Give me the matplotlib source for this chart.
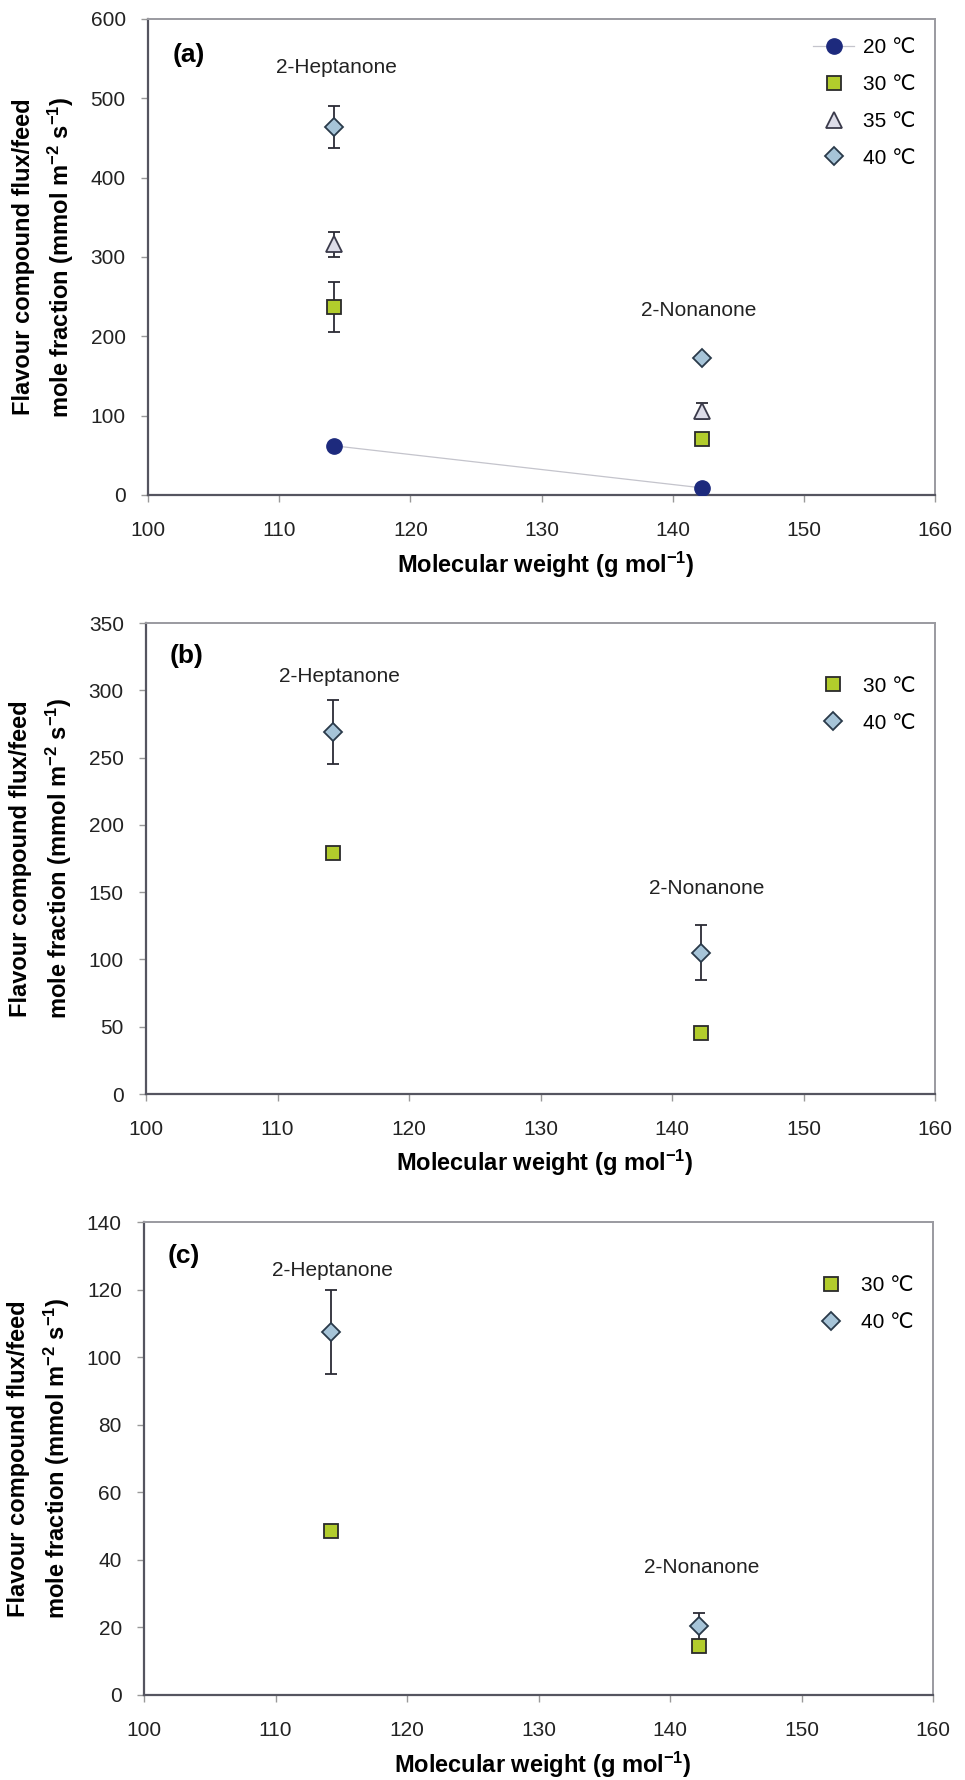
import numpy as np
import matplotlib
matplotlib.use("Agg")
import matplotlib.pyplot as plt

plt.rcParams['font.family'] = ['Liberation Sans', 'DejaVu Sans']
plt.rcParams['mathtext.fontset'] = 'custom'
plt.rcParams['mathtext.rm'] = 'Liberation Sans'
plt.rcParams['mathtext.bf'] = 'Liberation Sans:bold'
plt.rcParams['mathtext.it'] = 'Liberation Sans:italic'

# ---------------- data ----------------
mol_weight = [114.19, 142.24]
compounds = ["2-Heptanone", "2-Nonanone"]

# panel (a)
a_20 = [62, 9]
a_30 = [237, 70]
a_30_err = [32, 0]
a_35 = [316, 106]
a_35_err = [16, 10]
a_40 = [464, 173]
a_40_err = [26, 0]

# panel (b)
b_30 = [179, 45]
b_30_err = [0, 0]
b_40 = [269, 105]
b_40_err = [23.5, 20.5]

# panel (c)
c_30 = [48.5, 14.5]
c_30_err = [0, 0]
c_40 = [107.5, 20.3]
c_40_err = [12.5, 4]

labels_temp = ["20 \u2103", "30 \u2103", "35 \u2103", "40 \u2103"]

# ---------------- styles ----------------
NAVY = '#1d2a7d'
styles = {
    "20": dict(marker='o', mfc=NAVY, mec=NAVY, ms=11, mew=1.0),
    "30": dict(marker='s', mfc='#b2cc2c', mec='#2a2a2a', ms=10, mew=1.3),
    "35": dict(marker='^', mfc='#dcdce8', mec='#3a3a4a', ms=11.5, mew=1.3),
    "40": dict(marker='D', mfc='#a6c4d8', mec='#2a3a4a', ms=9, mew=1.3),
}

W, H = 965, 1780
fig = plt.figure(figsize=(W / 100, H / 100), dpi=100)

def ax_rect(left, top, right, bottom):
    return [left / W, 1 - bottom / H, (right - left) / W, (bottom - top) / H]

rects = [ax_rect(148, 19, 935, 495),
         ax_rect(146, 623, 935, 1094),
         ax_rect(144, 1222, 933, 1695)]

def draw_err(ax, x, y, e):
    x = np.asarray(x); y = np.asarray(y); e = np.asarray(e, dtype=float)
    m = e > 0
    if m.any():
        ax.errorbar(x[m], y[m], yerr=e[m], fmt='none', ecolor='#2b2b35',
                    elinewidth=1.3, capsize=4.5, capthick=1.3, zorder=2)

def style_axes(ax, ymax, ystep):
    ax.set_xlim(100, 160)
    ax.set_ylim(0, ymax)
    ax.set_xticks(np.arange(100, 161, 10))
    ax.set_yticks(np.arange(0, ymax + 1, ystep))
    ax.tick_params(axis='both', direction='out', length=5, width=1.0,
                   color='#999999', labelsize=15, labelcolor='#222222')
    ax.tick_params(axis='x', pad=14)
    ax.tick_params(axis='y', pad=11)
    for s in ['left', 'bottom']:
        ax.spines[s].set_color('#555560')
        ax.spines[s].set_linewidth(1.6)
    for s in ['top', 'right']:
        ax.spines[s].set_color('#9a9aa0')
        ax.spines[s].set_linewidth(1.4)
    ax.set_xlabel(r'Molecular weight (g mol$^{\mathbf{-1}}$)', fontsize=17,
                  fontweight='bold')
    ax.xaxis.set_label_coords(0.506, -0.147)
    ax.xaxis.label.set_va('center')
    ax.set_ylabel('Flavour compound flux/feed\n'
                  r'mole fraction (mmol m$^{\mathbf{-2}}$ s$^{\mathbf{-1}}$)',
                  fontsize=17, fontweight='bold', linespacing=1.5)
    ax.yaxis.set_label_coords(-0.132, 0.5)
    ax.yaxis.label.set_va('center')

LEG = dict(loc='upper right', frameon=False, fontsize=15, handlelength=2.0,
           handletextpad=0.4, labelspacing=0.86, borderpad=0, borderaxespad=0)

# ---------- panel (a) ----------
ax = fig.add_axes(rects[0])
style_axes(ax, 600, 100)
draw_err(ax, mol_weight, a_30, a_30_err)
draw_err(ax, mol_weight, a_35, a_35_err)
draw_err(ax, mol_weight, a_40, a_40_err)
ax.plot(mol_weight, a_20, '-', color='#c4c4cc', lw=0.9, label=labels_temp[0],
        zorder=3, **styles["20"])
ax.plot(mol_weight, a_30, 'none', label=labels_temp[1], zorder=3, **styles["30"])
ax.plot(mol_weight, a_35, 'none', label=labels_temp[2], zorder=3, **styles["35"])
ax.plot(mol_weight, a_40, 'none', label=labels_temp[3], zorder=3, **styles["40"])
ax.text(103.1, 555, '(a)', fontsize=19, fontweight='bold', ha='center', va='center')
ax.text(114.4, 539, compounds[0], fontsize=15, ha='center', va='center', color='#222222')
ax.text(142.0, 233, compounds[1], fontsize=15, ha='center', va='center', color='#222222')
ax.legend(bbox_to_anchor=(0.975, 0.96), **LEG)

# ---------- panel (b) ----------
ax = fig.add_axes(rects[1])
style_axes(ax, 350, 50)
draw_err(ax, mol_weight, b_30, b_30_err)
draw_err(ax, mol_weight, b_40, b_40_err)
ax.plot(mol_weight, b_30, 'none', label=labels_temp[1], zorder=3, **styles["30"])
ax.plot(mol_weight, b_40, 'none', label=labels_temp[3], zorder=3, **styles["40"])
ax.text(103.1, 325.5, '(b)', fontsize=19, fontweight='bold', ha='center', va='center')
ax.text(114.7, 310, compounds[0], fontsize=15, ha='center', va='center', color='#222222')
ax.text(142.6, 153, compounds[1], fontsize=15, ha='center', va='center', color='#222222')
ax.legend(bbox_to_anchor=(0.975, 0.886), **LEG)

# ---------- panel (c) ----------
ax = fig.add_axes(rects[2])
style_axes(ax, 140, 20)
draw_err(ax, mol_weight, c_30, c_30_err)
draw_err(ax, mol_weight, c_40, c_40_err)
ax.plot(mol_weight, c_30, 'none', label=labels_temp[1], zorder=3, **styles["30"])
ax.plot(mol_weight, c_40, 'none', label=labels_temp[3], zorder=3, **styles["40"])
ax.text(103.0, 130, '(c)', fontsize=19, fontweight='bold', ha='center', va='center')
ax.text(114.3, 125.5, compounds[0], fontsize=15, ha='center', va='center', color='#222222')
ax.text(142.4, 37.8, compounds[1], fontsize=15, ha='center', va='center', color='#222222')
ax.legend(bbox_to_anchor=(0.975, 0.886), **LEG)

fig.savefig('out.png', dpi=100)
